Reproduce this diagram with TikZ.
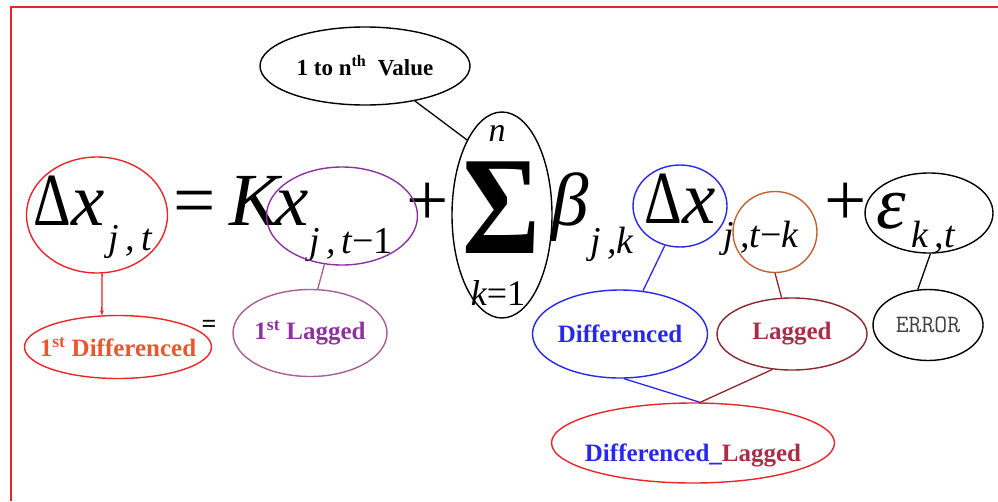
\documentclass[tikz,border=0pt]{standalone}
\usepackage{fontspec}
\setmainfont{Liberation Serif}
\usepackage{graphicx}
\usepackage{xcolor}
\usepackage{tikz}
\usetikzlibrary{arrows.meta,shapes.geometric}

\definecolor{lineRed}{RGB}{232,38,42}
\definecolor{diffOrange}{RGB}{232,88,48}
\definecolor{kxPurple}{RGB}{140,50,160}
\definecolor{lagMauve}{RGB}{165,95,150}
\definecolor{dxBlue}{RGB}{40,40,235}
\definecolor{lagBrown}{RGB}{190,100,50}
\definecolor{lagMaroon}{RGB}{135,40,45}
\definecolor{lagText}{RGB}{170,45,70}
\newcommand{\setsz}[1]{\fontsize{#1}{#1}\selectfont}
\newcommand{\inring}[1]{\makebox[0pt]{#1}}
\newcommand{\slimD}{\scalebox{0.78}[1]{Δ}}

\begin{document}
\begin{tikzpicture}[x=1pt, y=-1pt,
    sym/.style={inner sep=0pt, anchor=base, font=\setsz{75}\itshape},
    upr/.style={sym, font=\setsz{75}},
    sub/.style={sym, font=\setsz{38}\itshape},
    ring/.style={draw, ellipse, line width=1.4pt, inner sep=0pt},
    tag/.style={ring, font=\setsz{25}\bfseries},
    link/.style={line width=1.3pt}
]
\useasboundingbox (0,0) rectangle (998,501);
\draw[lineRed, line width=1.5pt] (11,501) -- (11,7) -- (998,7);

% the equation
\node[upr] (dxA) at (69,225) {\slimD\textit{x}};
\node[sub] (sA) at (130,250) {j\,,\,t};
\node[upr] (eqA) at (195,225) {=};
\node[sym] (kA) at (255,225) {K};
\node[sym] (xA) at (292,225) {x};
\node[sub] (sB) at (351,253) {j\,,\,t\upshape−1};
\node[upr] (plA) at (428,225) {+};
\node[sym, font=\setsz{140}\bfseries] (sig) at (501,253) {\scalebox{0.85}[1]{Σ}};
\node[sub, font=\setsz{34}\itshape] (sTop) at (497,141) {n};
\node[sub, font=\setsz{36}\itshape] (sBot) at (498,305) {k\upshape=1};
\node[sym] (bet) at (570,225) {β};
\node[sub] (sC) at (612,253) {j\,,k};
\node[upr] (dxB) at (680,223) {\slimD\textit{x}};
\node[sub] (sD) at (761,247) {j\,,t\upshape−\itshape k};
\node[upr] (plB) at (846,225) {+};
\node[sym] (eps) at (891,228) {ε};
\node[sub] (sE) at (933,247) {k\,,t};

% rings on the terms
\node[ring, lineRed, minimum width=141pt, minimum height=116pt] (eDX) at (97,215) {};
\node[ring, kxPurple, minimum width=151pt, minimum height=98pt] (eKX) at (342,216) {};
\node[ring, minimum width=100pt, minimum height=206pt] (eSum) at (502,215) {};
\node[ring, dxBlue, minimum width=94pt, minimum height=82pt] (eDXk) at (680,206) {};
\node[ring, lagBrown, minimum width=84pt, minimum height=81pt] (eLag) at (775,232) {};
\node[ring, minimum width=128pt, minimum height=80pt] (eEps) at (929,213) {};

% labels
\node[tag, font=\setsz{23}\bfseries, minimum width=210pt, minimum height=78pt] (lNth) at (365,66) {\inring{1 to n\textsuperscript{th}\ \ Value}};
\node[tag, lineRed, text=diffOrange, minimum width=187pt, minimum height=63pt] (lDif1) at (118,347) {\inring{1\textsuperscript{st} Differenced}};
\node[font=\setsz{26}\bfseries, inner sep=0pt] (eqB) at (209,326) {=};
\node[tag, draw=lagMauve, text=kxPurple, minimum width=154pt, minimum height=87pt] (lLag1) at (310,333) {\inring{1\textsuperscript{st} Lagged}};
\node[tag, dxBlue, minimum width=175pt, minimum height=88pt] (lDif) at (620,334) {\inring{Differenced}};
\node[tag, draw=lagMaroon, text=lagText, minimum width=150pt, minimum height=72pt] (lLag) at (792,334) {\inring{Lagged}};
\node[tag, font=\setsz{25}\ttfamily, text=black!75, minimum width=110pt, minimum height=71pt] (lErr) at (928,325) {\inring{ERROR}};
\node[tag, lineRed, minimum width=283pt, minimum height=80pt] (lDL) at (693,443) {\inring{\raisebox{-12pt}[\height][\depth]{\textcolor{dxBlue}{Differenced\_}\textcolor{lagText}{Lagged}}}};

\draw[link, lineRed, -{Stealth[length=5pt, width=4pt]}] (eDX.-85) -- (lDif1.117);
\draw[link, lagMauve] (eKX.-110) -- (lLag1.80);
\draw[link] (lNth.-35) -- (eSum.115);
\draw[link, dxBlue] (eDXk.-111) -- (lDif.62);
\draw[link, lagMaroon] (eLag.south) -- (lLag.106);
\draw[link] (eEps.-88) -- (lErr.106);
\draw[link, dxBlue] (lDif.-85) -- (lDL.80);
\draw[link, lagMaroon] (lLag.-119) -- (lDL.80);
\end{tikzpicture}
\end{document}
